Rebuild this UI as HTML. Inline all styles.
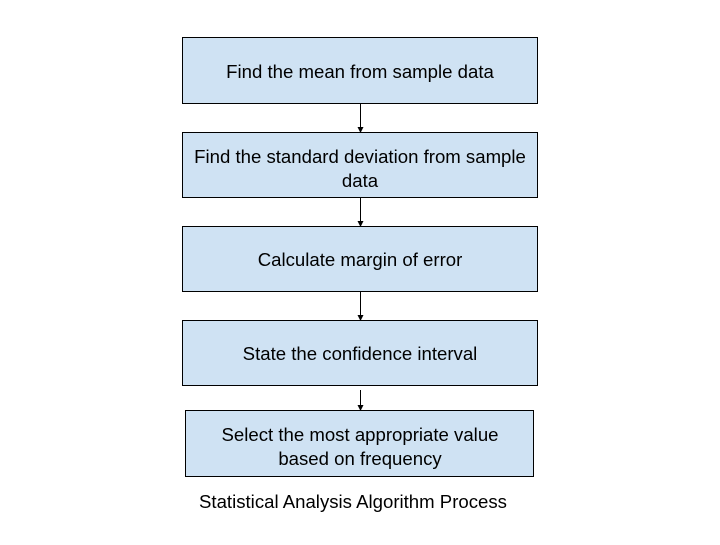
<!DOCTYPE html>
<html><head><style>
body{margin:0;width:720px;height:540px;background:#fff;font-family:"Liberation Sans",Arial,sans-serif;}
</style></head><body>
<svg width="720" height="540" xmlns="http://www.w3.org/2000/svg" font-family="Liberation Sans, Arial, sans-serif" font-size="18.6" fill="#000">
<defs><marker id="a" markerWidth="6" markerHeight="6" refX="5" refY="3" orient="auto" markerUnits="userSpaceOnUse"><path d="M0,0 L6,3 L0,6 z" fill="#000"/></marker></defs>
<g stroke="#000" stroke-width="1" fill="#cfe2f3">
<rect x="182.5" y="37.5" width="355" height="66"/>
<rect x="182.5" y="132.5" width="355" height="65"/>
<rect x="182.5" y="226.5" width="355" height="65"/>
<rect x="182.5" y="320.5" width="355" height="65"/>
<rect x="185.5" y="410.5" width="348" height="66"/>
</g>
<g stroke="#000" stroke-width="1">
<line x1="360.5" y1="104" x2="360.5" y2="132" marker-end="url(#a)"/>
<line x1="360.5" y1="198" x2="360.5" y2="226" marker-end="url(#a)"/>
<line x1="360.5" y1="292" x2="360.5" y2="320" marker-end="url(#a)"/>
<line x1="360.5" y1="390" x2="360.5" y2="410" marker-end="url(#a)"/>
</g>
<g text-anchor="middle">
<text x="360" y="78">Find the mean from sample data</text>
<text x="360" y="163">Find the standard deviation from sample</text>
<text x="360" y="187">data</text>
<text x="360" y="266">Calculate margin of error</text>
<text x="360" y="360">State the confidence interval</text>
<text x="360" y="441">Select the most appropriate value</text>
<text x="360" y="465">based on frequency</text>
<text x="353" y="508">Statistical Analysis Algorithm Process</text>
</g>
</svg>
</body></html>
